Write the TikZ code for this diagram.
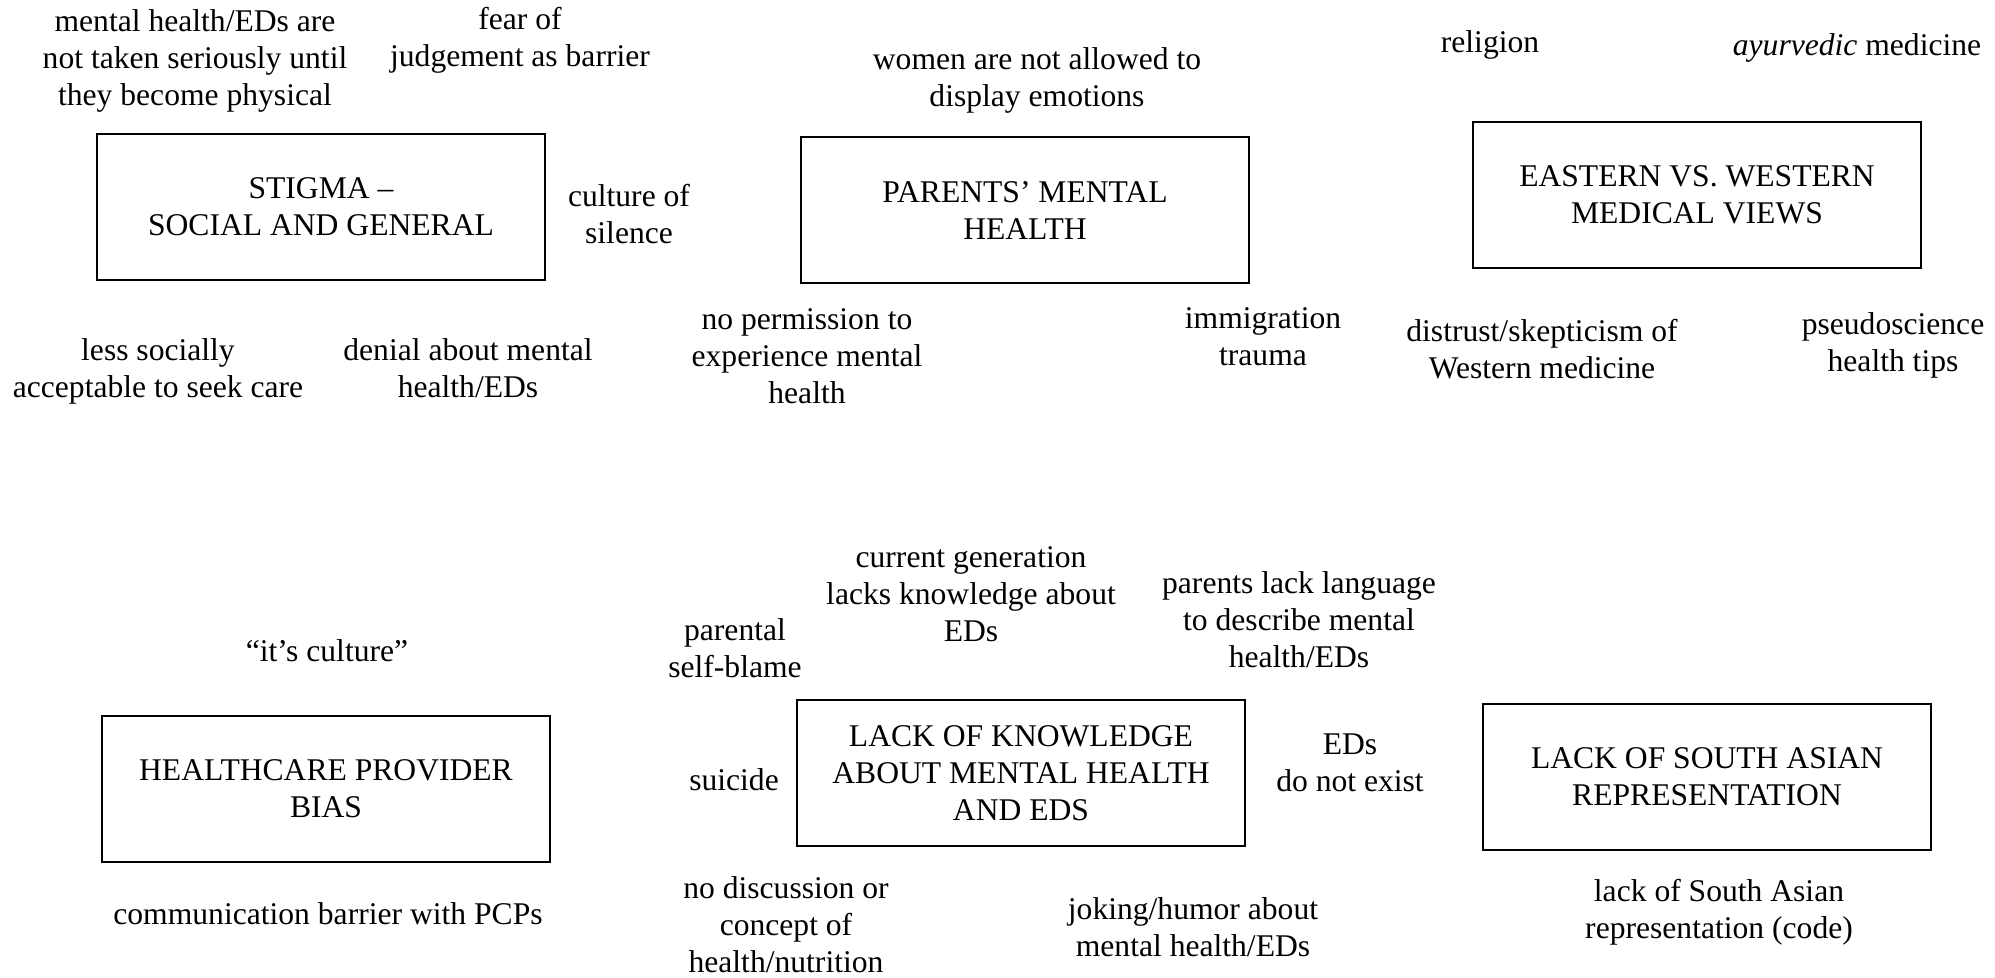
\documentclass[tikz,border=0pt]{standalone}
\usepackage{fontspec}
\setmainfont{Liberation Serif}
\begin{document}
\begin{tikzpicture}[x=0.5pt,y=-0.5pt,
  every node/.style={font=\fontsize{15.8}{18.5}\selectfont, align=center, inner sep=0pt},
  theme/.style={draw, line width=0.9pt, minimum width=224pt, minimum height=73pt}]
\useasboundingbox (0,0) rectangle (1995,978);
% theme boxes
\node[theme] (stigma) at (321,207) {STIGMA –\\SOCIAL AND GENERAL};
\node[theme] (parents) at (1025,210) {PARENTS’ MENTAL\\HEALTH};
\node[theme] (eastwest) at (1697,195) {EASTERN VS. WESTERN\\MEDICAL VIEWS};
\node[theme] (provider) at (326,789) {HEALTHCARE PROVIDER\\BIAS};
\node[theme] (knowledge) at (1021,773) {LACK OF KNOWLEDGE\\ABOUT MENTAL HEALTH\\AND EDS};
\node[theme] (southasian) at (1707,777) {LACK OF SOUTH ASIAN\\REPRESENTATION};
% stigma codes
\node (s1) at (195,61) {mental health/EDs are\\not taken seriously until\\they become physical};
\node (s2) at (520,40) {fear of\\judgement as barrier};
\node (s3) at (629,214) {culture of\\silence};
\node (s4) at (158,371) {less socially\\acceptable to seek care};
\node (s5) at (468,368) {denial about mental\\health/EDs};
% parents codes
\node (p1) at (1037,80) {women are not allowed to\\display emotions};
\node (p2) at (807,356) {no permission to\\experience mental\\health};
\node (p3) at (1263,337) {immigration\\trauma};
% east/west codes
\node (e1) at (1490,45) {religion};
\node (e2) at (1857,48) {\textit{ayurvedic} medicine};
\node (e3) at (1542,349) {distrust/skepticism of\\Western medicine};
\node (e4) at (1893,345) {pseudoscience\\health tips};
% provider codes
\node (h1) at (327,651) {“it’s culture”};
\node (h2) at (328,914) {communication barrier with PCPs};
% knowledge codes
\node (k1) at (735,648) {parental\\self-blame};
\node (k2) at (971,594) {current generation\\lacks knowledge about\\EDs};
\node (k3) at (1299,620) {parents lack language\\to describe mental\\health/EDs};
\node (k4) at (734,780) {suicide};
\node (k5) at (1350,763) {EDs\\do not exist};
\node (k6) at (786,925) {no discussion or\\concept of\\health/nutrition};
\node (k7) at (1193,927) {joking/humor about\\mental health/EDs};
% south asian codes
\node (r1) at (1719,912) {lack of South Asian\\representation (code)};
\end{tikzpicture}
\end{document}
